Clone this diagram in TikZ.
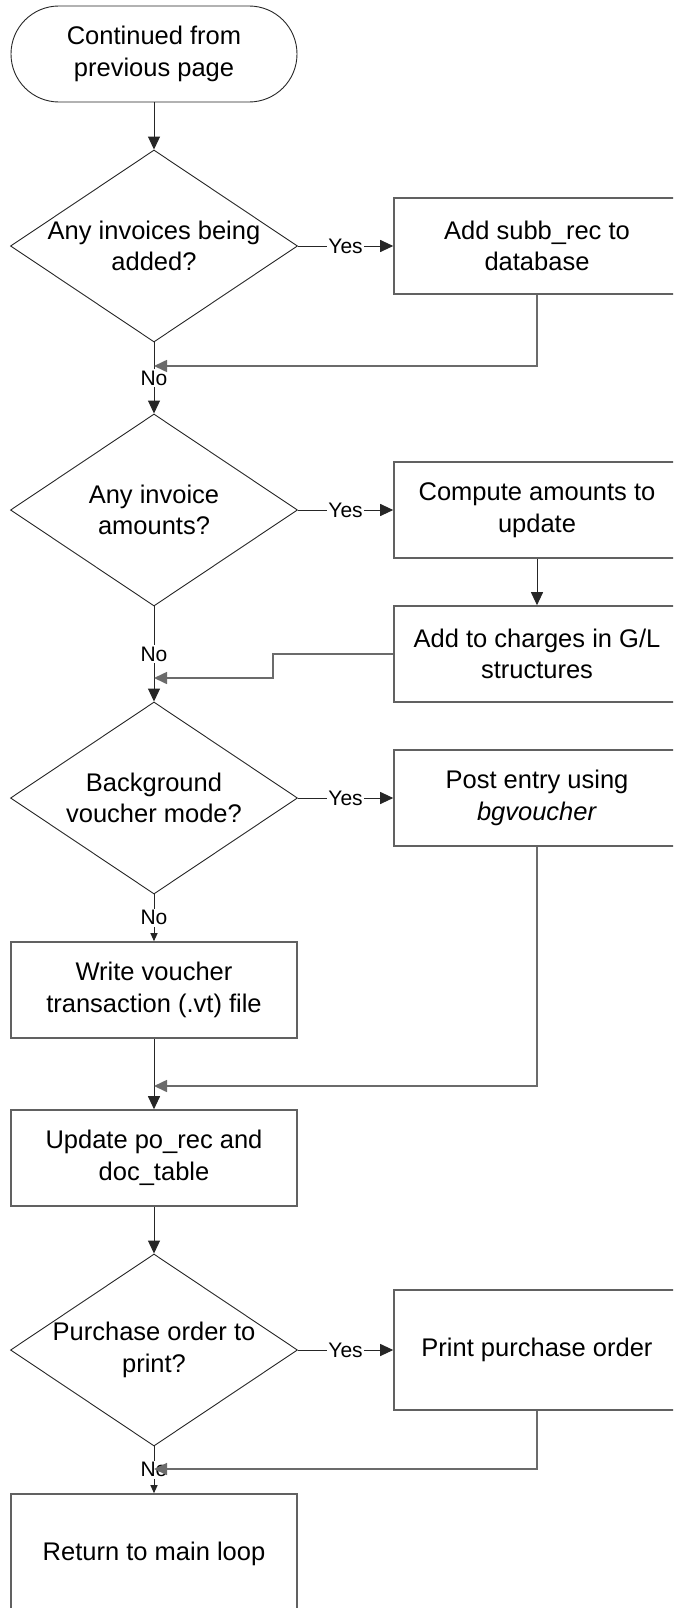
\documentclass[tikz,border=0pt]{standalone}
\usepackage{fontspec}
\setmainfont{Liberation Sans}
\usetikzlibrary{shapes.geometric, arrows.meta}
\colorlet{line-color}{black!85}
\colorlet{box-color}{black!62}
\colorlet{merge-color}{black!58}
\tikzset{
    terminal/.style = {draw=line-color, line width=0.9pt, rounded corners=47.9pt,
        minimum width=286pt, minimum height=96pt},
    decision/.style = {diamond, draw=line-color, line width=0.9pt, inner sep=0pt,
        minimum width=287pt, minimum height=192pt},
    process/.style = {draw=box-color, line width=1.6pt,
        minimum width=286pt, minimum height=96pt},
    tall/.style = {minimum height=120pt},
    txt/.style = {align=center, inner sep=0pt, font=\fontsize{25.5}{31.5}\selectfont},
    lbl/.style = {fill=white, inner sep=1.5pt, font=\fontsize{21}{25}\selectfont},
    flow/.style = {draw=line-color, line width=1pt, -{Triangle[length=13pt,width=12pt]}},
    flow_small/.style = {flow, -{Triangle[length=8pt,width=7pt]}},
    merge/.style = {flow, draw=merge-color, line width=1.6pt},
}

\begin{document}
\begin{tikzpicture}[x=1pt, y=-1pt]
    \useasboundingbox (0,0) rectangle (673,1608);
    \clip (0,0) rectangle (673,1608);

    \node[terminal, txt] (start) at (154,54) {Continued from\\previous page};

    \node[decision] (q1) at (154,246) {};
    \node[txt] (q1-text) at (q1) {Any invoices being\\added?};
    \node[process, txt] (b1) at (537,246) {Add subb\_rec to\\database};

    \node[decision] (q2) at (154,510) {};
    \node[txt] (q2-text) at (q2) {Any invoice\\amounts?};
    \node[process, txt] (b2) at (537,510) {Compute amounts to\\update};
    \node[process, txt] (b3) at (537,654) {Add to charges in G/L\\structures};

    \node[decision] (q3) at (154,798) {};
    \node[txt] (q3-text) at (q3) {Background\\voucher mode?};
    \node[process, txt] (b4) at (537,798) {Post entry using\\\textit{bgvoucher}};
    \node[process, txt] (b5) at (154,990) {Write voucher\\transaction (.vt) file};
    \node[process, txt] (b6) at (154,1158) {Update po\_rec and\\doc\_table};

    \node[decision] (q4) at (154,1350) {};
    \node[txt] (q4-text) at (q4) {Purchase order to\\print?};
    \node[process, tall, txt] (b7) at (537,1350) {Print purchase order};
    \node[process, tall, txt] (b8) at (154,1554) {Return to main loop};

    \coordinate (j1) at (154,366);
    \coordinate (j2) at (154,678);
    \coordinate (j3) at (154,1086);
    \coordinate (j4) at (154,1469);

    \draw[flow] (start) -- (q1);
    \draw[flow] (q1) -- node[lbl]{Yes} (b1);
    \draw[flow] (q1) -- node[lbl]{No} (q2);
    \draw[merge] (b1) |- (j1);

    \draw[flow] (q2) -- node[lbl]{Yes} (b2);
    \draw[flow] (b2) -- (b3);
    \draw[flow] (q2) -- node[lbl]{No} (q3);
    \draw[merge] (b3.west) -- ++(-120,0) |- (j2);

    \draw[flow] (q3) -- node[lbl]{Yes} (b4);
    \draw[flow_small] (q3) -- node[lbl]{No} (b5);
    \draw[flow] (b5) -- (b6);
    \draw[merge] (b4) |- (j3);

    \draw[flow] (b6) -- (q4);
    \draw[flow] (q4) -- node[lbl]{Yes} (b7);
    \draw[flow_small] (q4) -- node[lbl]{No} (b8);
    \draw[merge] (b7) |- (j4);
\end{tikzpicture}
\end{document}
